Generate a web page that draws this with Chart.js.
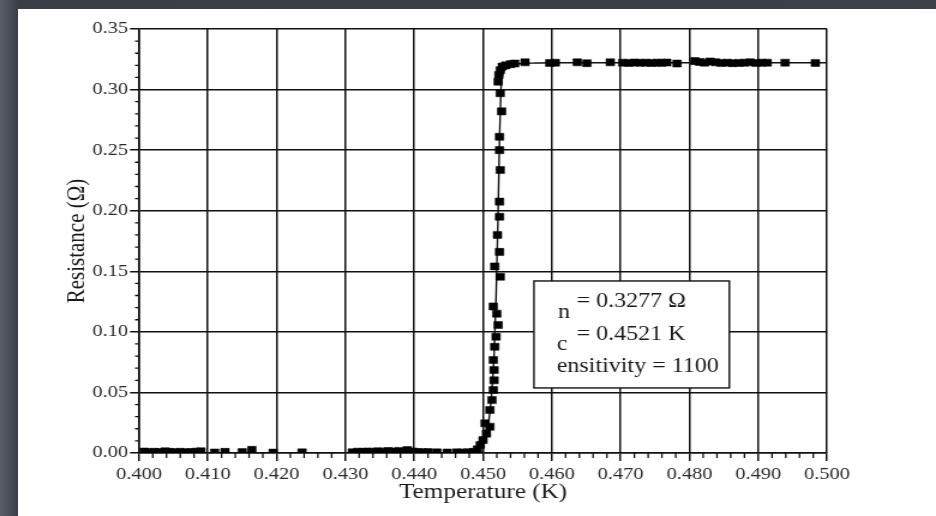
<!DOCTYPE html>
<html>
<head>
<meta charset="utf-8">
<script src="https://cdn.jsdelivr.net/npm/chart.js@4/dist/chart.umd.min.js"></script>
<style>
  html, body { margin: 0; padding: 0; }
  body {
    width: 936px; height: 516px; overflow: hidden; position: relative;
    background: linear-gradient(90deg, #5a5e68 0px, #3b3e46 18px, #3e4149 100%);
  }
  #sheet { position: absolute; left: 18px; top: 9px; right: 0; bottom: 0; background: #fff; }
  /* the source figure is stretched sideways, so draw narrow and widen */
  #wrap { position: absolute; left: 0; top: 0; width: 780px; height: 516px;
          transform: scaleX(1.2); transform-origin: 0 0; }
</style>
</head>
<body>
<div id="sheet"></div>
<div id="wrap"><canvas id="rt" width="780" height="516"></canvas></div>
<script>
const tempK = [
  0.4008, 0.4015, 0.4022, 0.4030, 0.4038, 0.4045, 0.4052, 0.4060, 0.4068, 0.4075, 0.4083, 0.4090,
  0.4110, 0.4125, 0.4150, 0.4164, 0.4195, 0.4237,
  0.4310, 0.4318, 0.4325, 0.4332, 0.4340, 0.4347, 0.4355, 0.4362, 0.4370, 0.4378, 0.4390, 0.4398,
  0.4405, 0.4412, 0.4420, 0.4433, 0.4448, 0.4462, 0.4470, 0.4478, 0.4486, 0.4492,
  0.4496, 0.4500, 0.4505, 0.4503, 0.4510, 0.4510, 0.4513, 0.4515, 0.4516, 0.4516, 0.4515, 0.4517,
  0.4519, 0.4522, 0.4520, 0.4515, 0.4525, 0.4517, 0.4524, 0.4521, 0.4524, 0.4524, 0.4525, 0.4524,
  0.4524, 0.4527, 0.4525, 0.4522, 0.4523, 0.4525, 0.4528, 0.4533, 0.4540, 0.4546,
  0.4561, 0.4597, 0.4605, 0.4637, 0.4651, 0.4685, 0.4703, 0.4712, 0.4720, 0.4728, 0.4737, 0.4745,
  0.4753, 0.4760, 0.4767, 0.4782, 0.4808, 0.4815, 0.4822, 0.4830, 0.4838, 0.4846, 0.4855, 0.4863,
  0.4872, 0.4880, 0.4888, 0.4897, 0.4905, 0.4913, 0.4939, 0.4983
];
const resOhm = [
  0.0012, 0.0006, 0.0010, 0.0008, 0.0014, 0.0009, 0.0006, 0.0010, 0.0005, 0.0008, 0.0011, 0.0014,
  0.0004, 0.0009, 0.0007, 0.0026, 0.0003, 0.0005,
  0.0006, 0.0011, 0.0009, 0.0012, 0.0010, 0.0014, 0.0011, 0.0016, 0.0013, 0.0017, 0.0024, 0.0013,
  0.0008, 0.0006, 0.0007, 0.0005, 0.0004, 0.0005, 0.0004, 0.0006, 0.0009, 0.0030,
  0.0066, 0.0107, 0.0160, 0.0245, 0.0217, 0.0355, 0.0437, 0.0520, 0.0600, 0.0685, 0.0768, 0.0877,
  0.0960, 0.1057, 0.1150, 0.1210, 0.1455, 0.1540, 0.1660, 0.1800, 0.1950, 0.2075, 0.2336, 0.2500,
  0.2610, 0.2820, 0.2970, 0.3065, 0.3120, 0.3160, 0.3190, 0.3200, 0.3210, 0.3215,
  0.3225, 0.3220, 0.3222, 0.3225, 0.3218, 0.3225, 0.3222, 0.3220, 0.3223, 0.3221, 0.3222, 0.3220,
  0.3222, 0.3221, 0.3223, 0.3215, 0.3235, 0.3228, 0.3222, 0.3232, 0.3225, 0.3220, 0.3222, 0.3218,
  0.3220, 0.3222, 0.3225, 0.3220, 0.3222, 0.3222, 0.3222, 0.3220
];

// fitted curve, points picked along the drawn line
const fitTempK = [0.400, 0.4470, 0.4485, 0.4495, 0.4503, 0.4508, 0.4512, 0.4516, 0.4519,
                  0.4522, 0.4524, 0.4526, 0.4529, 0.4534, 0.4545, 0.4570, 0.4620, 0.500];
const fitResOhm = [0.0, 0.0003, 0.0015, 0.005, 0.012, 0.025, 0.045, 0.08, 0.13,
                   0.2, 0.26, 0.3, 0.313, 0.318, 0.3208, 0.3218, 0.3221, 0.3222];

// fit results text box (clipped labels kept as in the figure)
const fitSubs = ['n', 'c'];
const fitValues = ['= 0.3277 \u03a9', '= 0.4521 K'];
const fitLast = 'ensitivity = 1100';
const boxT = [0.4574, 0.4858];
const boxR = [0.0537, 0.142];

const serif = '"Liberation Serif", "Times New Roman", serif';
const ink = '#111';

const minorTicks = {
  id: 'minorTicks',
  afterDraw(chart) {
    const { ctx } = chart;
    const x = chart.scales.x, y = chart.scales.y;
    ctx.save();
    ctx.strokeStyle = ink;
    ctx.lineWidth = 1.3;
    ctx.beginPath();
    for (let i = 1; i < 50; i++) {
      if (i % 5 === 0) continue;
      const px = x.getPixelForValue(0.4 + i * 0.002);
      ctx.moveTo(px, y.bottom);
      ctx.lineTo(px, y.bottom + 5);
    }
    for (let i = 1; i < 35; i++) {
      if (i % 5 === 0) continue;
      const py = y.getPixelForValue(i * 0.01);
      ctx.moveTo(x.left, py);
      ctx.lineTo(x.left - 3.3, py);
    }
    ctx.stroke();

    // results box
    const l = x.getPixelForValue(boxT[0]), r = x.getPixelForValue(boxT[1]);
    const t = y.getPixelForValue(boxR[1]), b = y.getPixelForValue(boxR[0]);
    ctx.fillStyle = '#fff';
    ctx.fillRect(l, t, r - l, b - t);
    ctx.lineWidth = 1.4;
    ctx.strokeRect(l, t, r - l, b - t);
    ctx.fillStyle = '#1a1a1a';
    ctx.font = '20px ' + serif;
    ctx.textBaseline = 'alphabetic';
    ctx.textAlign = 'left';
    ctx.fillText(fitSubs[0], l + 20, t + 37);
    ctx.fillText(fitValues[0], l + 35.5, t + 26);
    ctx.fillText(fitSubs[1], l + 19, t + 69);
    ctx.fillText(fitValues[1], l + 35.5, t + 59);
    ctx.fillText(fitLast, l + 19, t + 91);
    ctx.restore();
  }
};

const measured = tempK.map((t, i) => ({ x: t, y: resOhm[i] }));
const fitted = fitTempK.map((t, i) => ({ x: t, y: fitResOhm[i] }));

new Chart(document.getElementById('rt'), {
  type: 'scatter',
  data: {
    datasets: [
      {
        data: measured,
        pointStyle: 'rect',
        pointRadius: 5,
        backgroundColor: '#000',
        borderColor: '#000',
        borderWidth: 0.5
      },
      {
        data: fitted,
        showLine: true,
        pointRadius: 0,
        borderColor: ink,
        borderWidth: 1.4,
        cubicInterpolationMode: 'monotone'
      }
    ]
  },
  options: {
    responsive: false,
    animation: false,
    layout: { padding: { left: 0, top: 29, right: 90.8, bottom: 0 } },
    plugins: { legend: { display: false }, tooltip: { enabled: false } },
    scales: {
      x: {
        type: 'linear',
        min: 0.4,
        max: 0.5,
        afterFit(scale) { scale.height = 63; },
        ticks: {
          stepSize: 0.01,
          padding: 3,
          color: '#2a2a2a',
          font: { family: serif, size: 17 },
          callback: v => v.toFixed(3)
        },
        grid: { color: ink, lineWidth: 1.5, tickColor: ink, tickLength: 8 },
        border: { color: ink, width: 1.6 },
        title: {
          display: true,
          text: 'Temperature (K)',
          color: '#1a1a1a',
          font: { family: serif, size: 21 },
          padding: { top: 0, bottom: 11 }
        }
      },
      y: {
        min: 0,
        max: 0.35,
        afterFit(scale) { scale.width = 115.8; },
        ticks: {
          stepSize: 0.05,
          padding: 1.5,
          color: '#2a2a2a',
          font: { family: serif, size: 17 },
          callback: v => v.toFixed(2)
        },
        grid: { color: ink, lineWidth: 1.5, tickColor: ink, tickLength: 7.5 },
        border: { color: ink, width: 1.6 },
        title: {
          display: true,
          text: 'Resistance (\u03a9)',
          color: '#1a1a1a',
          font: { family: serif, size: 21 },
          padding: { top: 52, bottom: 0 }
        }
      }
    }
  },
  plugins: [minorTicks]
});
</script>
</body>
</html>
